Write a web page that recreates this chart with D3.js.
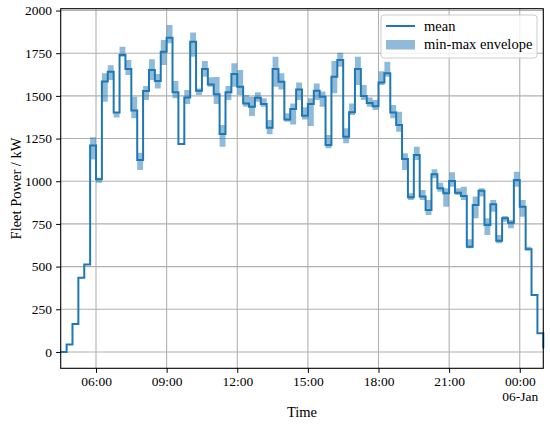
<!DOCTYPE html>
<html>
<head>
<meta charset="utf-8">
<script src="https://cdn.jsdelivr.net/npm/d3@7"></script>
<style>
  body { margin: 0; background: #fff; }
  text { font-family: "Liberation Serif", "DejaVu Serif", serif; }
</style>
</head>
<body>
<div id="chart"></div>
<script>
// 15-minute samples from 05-Jan 04:30 to 06-Jan 01:00
const startTime = new Date(2024, 0, 5, 4, 30);
const stepMinutes = 15;

const meanKW = [
  0, 43, 164, 435, 513, 1210, 1011, 1585, 1642, 1402,
  1739, 1657, 1415, 1124, 1528, 1651, 1587, 1759, 1841, 1521,
  1218, 1491, 1817, 1530, 1657, 1566, 1509, 1277, 1521, 1628,
  1554, 1456, 1437, 1489, 1452, 1314, 1657, 1583, 1362, 1423,
  1538, 1384, 1452, 1530, 1495, 1212, 1612, 1710, 1261, 1404,
  1657, 1500, 1458, 1440, 1578, 1632, 1402, 1330, 1130, 906,
  1154, 910, 832, 1041, 959, 929, 1001, 933, 914, 617,
  861, 945, 744, 865, 652, 783, 757, 1007, 851, 601,
  334, 109, 20
];
const minKW = [
  0, 43, 164, 435, 513, 1128, 991, 1466, 1593, 1374,
  1730, 1622, 1369, 1066, 1476, 1593, 1544, 1681, 1808, 1486,
  1212, 1452, 1729, 1505, 1612, 1554, 1452, 1202, 1476, 1554,
  1505, 1437, 1382, 1466, 1437, 1275, 1554, 1538, 1349, 1333,
  1476, 1362, 1324, 1476, 1437, 1193, 1515, 1671, 1222, 1388,
  1564, 1476, 1437, 1417, 1564, 1612, 1369, 1290, 1066, 890,
  1124, 890, 802, 1017, 939, 851, 968, 919, 890, 607,
  783, 910, 685, 822, 637, 763, 724, 968, 792, 595,
  334, 109, 20
];
const maxKW = [
  0, 43, 164, 435, 513, 1257, 1020, 1632, 1679, 1402,
  1788, 1710, 1495, 1167, 1558, 1714, 1628, 1827, 1915, 1587,
  1222, 1534, 1872, 1544, 1704, 1609, 1611, 1329, 1558, 1691,
  1652, 1505, 1495, 1521, 1486, 1359, 1729, 1632, 1398, 1456,
  1579, 1433, 1486, 1573, 1525, 1271, 1704, 1753, 1310, 1456,
  1729, 1564, 1490, 1476, 1645, 1700, 1447, 1407, 1164, 929,
  1202, 949, 890, 1070, 991, 959, 1052, 959, 968, 660,
  910, 959, 783, 890, 685, 797, 773, 1056, 890, 617,
  334, 109, 20
];
const yTicks = [0, 250, 500, 750, 1000, 1250, 1500, 1750, 2000];

const data = meanKW.map((m, i) => ({
  t: d3.timeMinute.offset(startTime, i * stepMinutes),
  mean: m, min: minKW[i], max: maxKW[i]
}));

const width = 550, height = 424;
const margin = {top: 8.7, right: 6.7, bottom: 55.7, left: 60.7};

const svg = d3.select("#chart").append("svg")
  .attr("width", width).attr("height", height);

const x = d3.scaleTime()
  .domain(d3.extent(data, d => d.t))
  .range([margin.left, width - margin.right]);

const lo = d3.min(minKW), hi = d3.max(maxKW), pad = (hi - lo) * 0.05;
const y = d3.scaleLinear()
  .domain([lo - pad, hi + pad])
  .range([height - margin.bottom, margin.top]);

// grid
const xTicks = x.ticks(d3.timeHour.every(3));
svg.append("g").selectAll("line").data(xTicks).join("line")
  .attr("x1", d => x(d)).attr("x2", d => x(d))
  .attr("y1", margin.top).attr("y2", height - margin.bottom)
  .attr("stroke", "#b0b0b0").attr("stroke-width", 1.1);
svg.append("g").selectAll("line").data(yTicks).join("line")
  .attr("x1", margin.left).attr("x2", width - margin.right)
  .attr("y1", d => y(d)).attr("y2", d => y(d))
  .attr("stroke", "#b0b0b0").attr("stroke-width", 1.1);

// envelope + mean
const area = d3.area()
  .x(d => x(d.t)).y0(d => y(d.min)).y1(d => y(d.max))
  .curve(d3.curveStepAfter);
svg.append("path").datum(data)
  .attr("d", area).attr("fill", "#1f77b4").attr("fill-opacity", 0.5);

const line = d3.line()
  .x(d => x(d.t)).y(d => y(d.mean))
  .curve(d3.curveStepAfter);
svg.append("path").datum(data)
  .attr("d", line).attr("fill", "none")
  .attr("stroke", "#1f77b4").attr("stroke-width", 2);

// frame
svg.append("rect")
  .attr("x", margin.left).attr("y", margin.top)
  .attr("width", width - margin.left - margin.right)
  .attr("height", height - margin.top - margin.bottom)
  .attr("fill", "none").attr("stroke", "#000").attr("stroke-width", 1.1);

// axes
const xAxis = svg.append("g")
  .attr("transform", `translate(0,${height - margin.bottom})`)
  .call(d3.axisBottom(x).tickValues(xTicks).tickFormat(d3.timeFormat("%H:%M"))
    .tickSize(4.6).tickPadding(4));
xAxis.select(".domain").remove();
xAxis.attr("font-family", null).attr("font-size", null);
xAxis.selectAll("text").attr("font-size", 13.5).attr("fill", "#000");
xAxis.selectAll(".tick text").filter(d => d.getHours() === 0)
  .append("tspan").attr("x", 0).attr("dy", "1.1em")
  .text(d => d3.timeFormat("%d-%b")(d));

const yAxis = svg.append("g")
  .attr("transform", `translate(${margin.left},0)`)
  .call(d3.axisLeft(y).tickValues(yTicks).tickFormat(d3.format("d"))
    .tickSize(4.6).tickPadding(4));
yAxis.select(".domain").remove();
yAxis.attr("font-family", null).attr("font-size", null);
yAxis.selectAll("text").attr("font-size", 13.5).attr("fill", "#000");

svg.append("text")
  .attr("x", (margin.left + width - margin.right) / 2).attr("y", 417)
  .attr("text-anchor", "middle").attr("font-size", 14.5)
  .text("Time");
svg.append("text")
  .attr("transform", `translate(21,${(margin.top + height - margin.bottom) / 2}) rotate(-90)`)
  .attr("text-anchor", "middle").attr("font-size", 14.5)
  .text("Fleet Power / kW");

// legend
const lg = svg.append("g");
lg.append("rect")
  .attr("x", 381).attr("y", 15).attr("width", 156).attr("height", 43)
  .attr("rx", 3).attr("fill", "#fff").attr("fill-opacity", 0.8)
  .attr("stroke", "#cccccc").attr("stroke-width", 1);
lg.append("line")
  .attr("x1", 386).attr("x2", 415).attr("y1", 26).attr("y2", 26)
  .attr("stroke", "#1f77b4").attr("stroke-width", 2);
lg.append("rect")
  .attr("x", 386).attr("y", 40).attr("width", 29).attr("height", 9.5)
  .attr("fill", "#1f77b4").attr("fill-opacity", 0.5);
lg.append("text").attr("x", 424).attr("y", 30.5)
  .attr("font-size", 14.5).text("mean");
lg.append("text").attr("x", 424).attr("y", 48.5)
  .attr("font-size", 14.5).text("min-max envelope");
</script>
</body>
</html>
